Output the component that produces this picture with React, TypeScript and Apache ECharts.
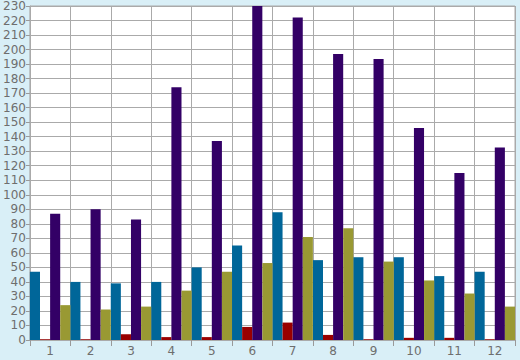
import React, { useEffect, useRef } from "react";
import * as echarts from "echarts";

const categories = ["1", "2", "3", "4", "5", "6", "7", "8", "9", "10", "11", "12"];
const blueValues = [47, 40, 39, 40, 50, 65, 88, 55, 57, 57, 44, 47];
const redValues = [0.5, 0.5, 4, 2, 2, 9, 12, 3.5, 0.5, 1.5, 1.5, 0.5];
const purpleValues = [87, 90, 83, 174, 137, 230, 222, 197, 193.5, 146, 115, 132.5];
const oliveValues = [24, 21, 23, 34, 47, 53, 71, 77, 54, 41, 32, 23];

export default function App() {
  const ref = useRef<HTMLDivElement>(null);
  useEffect(() => {
    if (!ref.current) return;
    const chart = echarts.init(ref.current, undefined, { renderer: "svg" });
    const mk = (name: string, data: number[], color: string) => ({
      name,
      type: "bar",
      data,
      barGap: "0%",
      barCategoryGap: "0%",
      itemStyle: { color },
    });
    chart.setOption({
      animation: false,
      backgroundColor: "#d9eff7",
      grid: {
        left: 26,
        right: 5,
        top: 5,
        bottom: 20,
        show: true,
        backgroundColor: "#ffffff",
        borderColor: "#aaaaaa",
        borderWidth: 1,
      },
      xAxis: {
        type: "category",
        data: categories,
        boundaryGap: true,
        axisLine: { show: true, lineStyle: { color: "#aaaaaa" } },
        axisTick: { show: true, length: 6, lineStyle: { color: "#999999" } },
        splitLine: { show: true, lineStyle: { color: "#aaaaaa", width: 1 } },
        axisLabel: {
          color: "#6e6e6e",
          fontFamily: "DejaVu Sans",
          fontSize: 12,
          margin: 5,
        },
      },
      yAxis: {
        type: "value",
        min: 0,
        max: 230,
        interval: 10,
        axisLine: { show: true, lineStyle: { color: "#aaaaaa" } },
        axisTick: { show: true, length: 4, lineStyle: { color: "#999999" } },
        splitLine: { show: true, lineStyle: { color: "#aaaaaa", width: 1 } },
        axisLabel: {
          color: "#6e6e6e",
          fontFamily: "DejaVu Sans",
          fontSize: 12,
          margin: 4,
        },
      },
      series: [
        mk("A", blueValues, "#006699"),
        mk("B", redValues, "#990000"),
        mk("C", purpleValues, "#330066"),
        mk("D", oliveValues, "#999933"),
      ],
    });
    return () => chart.dispose();
  }, []);
  return <div ref={ref} style={{ width: 520, height: 360, position: "absolute", left: 0, top: 0 }} />;
}
